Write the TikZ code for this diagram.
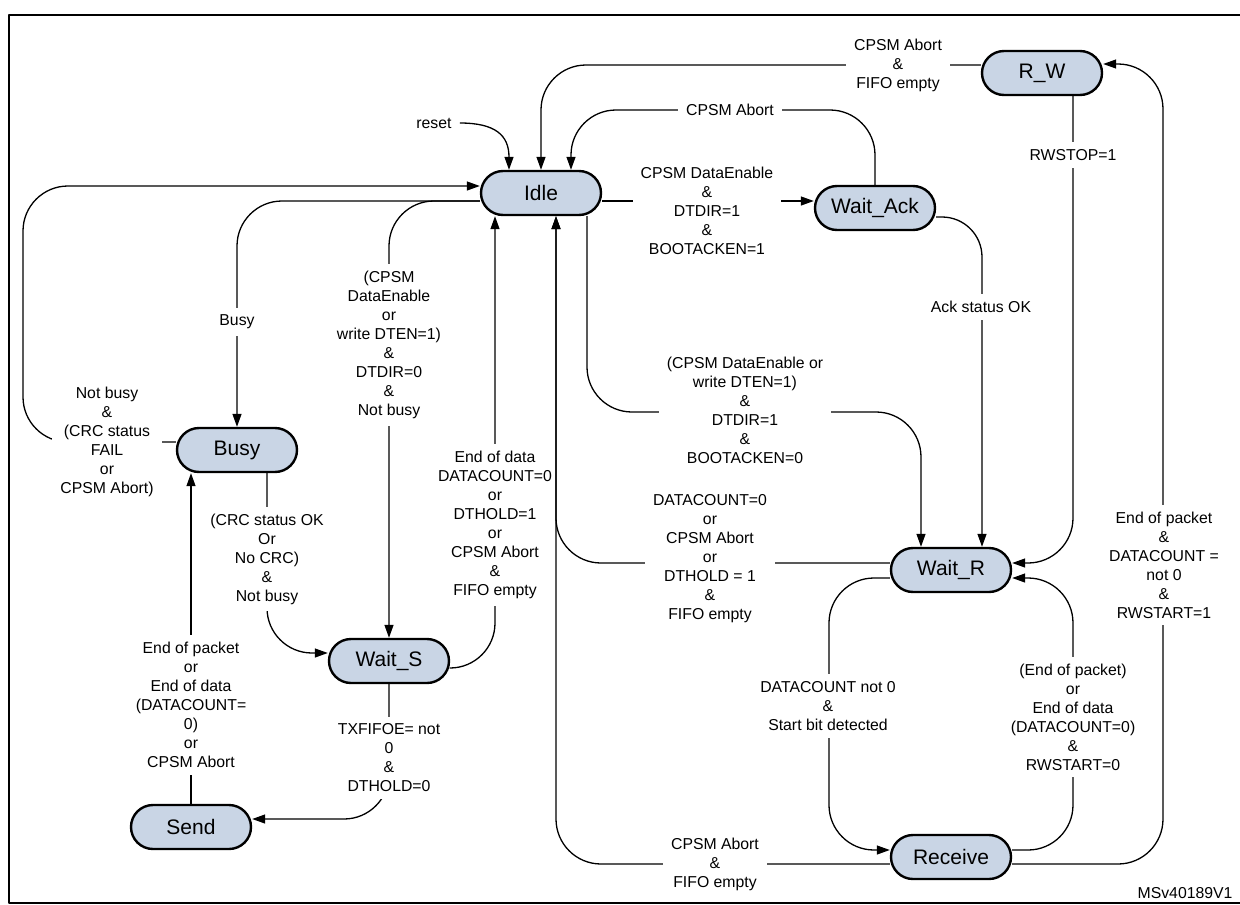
\documentclass[tikz,border=0pt]{standalone}
\usepackage{fontspec}
\setmainfont{Liberation Sans}
\usepackage{xcolor}
\usepackage{tikz}
\usetikzlibrary{shapes.misc}
\usetikzlibrary{arrows.meta}
\definecolor{statefill}{RGB}{201,213,229}
\tikzset{
    statenode/.style = {rounded rectangle, draw=black, line width=2.4pt, fill=statefill, minimum width=120pt, minimum height=44pt, inner sep=0pt, font=\fontsize{21}{25}\selectfont},
    cond/.style = {fill=white, align=center, inner xsep=8pt, inner ysep=7pt, font=\fontsize{15.8}{19}\selectfont},
}

\begin{document}
\begin{tikzpicture}[
	x=1pt, y=-1pt,
	line join=round
]
\tikzset{
    edgen/.style = {line width=1.3pt, rounded corners=45pt},
    edgea/.style = {edgen, -{Triangle[length=13pt,width=9pt]}}
}
\useasboundingbox (0,0) rectangle (1240,905);
\draw[line width=1.6pt] (9,15) rectangle (1250,903);
%
\node[statenode] at (541,193) (idle) {Idle};
\node[statenode] at (875,208) (waitack) {Wait\_Ack};
\node[statenode] at (1042,73) (rw) {R\_W};
\node[statenode] at (237,450) (busy) {Busy};
\node[statenode] at (389,661) (waits) {Wait\_S};
\node[statenode] at (191,827) (send) {Send};
\node[statenode] at (951,570) (waitr) {Wait\_R};
\node[statenode] at (951,857) (receive) {Receive};
%
\node[cond] at (434,123) (reset) {reset};
\draw[edgea] (reset.east) .. controls (495,123) and (509,135) .. ([xshift=-32pt]idle.north);
%
\draw[edgea] ([yshift=8pt]rw.west) -| (idle.north);
\draw[edgea] (waitack.north) |- (700,110) -| ([xshift=30pt]idle.north);
\draw[edgea] ([yshift=-8pt]idle.east) -- ([yshift=7pt]waitack.west);
\draw[edgea,rounded corners=40pt] ([yshift=-9pt]waitack.east) -| ([xshift=31pt]waitr.north);
\draw[edgea] ([xshift=31pt]rw.south) |- ([yshift=7pt]waitr.east);
\draw[edgea] ([yshift=-7pt]receive.east) -- (1163,864) -- (1163,64) -- ([yshift=9pt]rw.east);
%
\draw[edgea] ([yshift=8pt]busy.west) -- (23,442) -- (23,186) -- ([yshift=7pt]idle.west);
\draw[edgea] ([yshift=-8pt]idle.west) -| (busy.north);
\draw[edgea] ([yshift=-8pt]idle.west) -| (waits.north);
\draw[edgea] ([yshift=-7pt]waits.east) -| ([xshift=-46pt]idle.south);
\draw[edgea] ([yshift=7pt]waitr.west) -| ([xshift=15pt]idle.south);
\draw[edgea] ([yshift=-7pt]receive.west) -| ([xshift=15pt]idle.south);
\draw[edgea] ([xshift=46pt]idle.south) |- (750,412) -| ([xshift=-30pt]waitr.north);
%
\draw[edgea] ([xshift=30pt]busy.south) |- ([yshift=8pt]waits.west);
\draw[edgea] (send.north) -- (send.north |- busy.south);
\draw[edgea] (waits.south) |- ([yshift=8pt]send.east);
%
\draw[edgea] ([yshift=-8pt]waitr.west) -- (829,578) -- (829,850) -- ([yshift=7pt]receive.west);
\draw[edgea] ([yshift=7pt]receive.east) -- (1073,850) -- (1073,578) -- ([yshift=-8pt]waitr.east);
%
\node[cond] at (898,65) (lrwidle) {CPSM Abort\\\&\\FIFO empty};
\node[cond] at (730,110) (lackidle) {CPSM Abort};
\node[cond] at (707,211) (lidleack) {CPSM DataEnable\\\&\\DTDIR=1\\\&\\BOOTACKEN=1};
\node[cond] at (107,442) (lnotbusy) {Not busy\\\&\\(CRC status\\FAIL\\or\\CPSM Abort)};
\node[cond] at (237,322) (lbusy) {Busy};
\node[cond] at (389,345) (lidlews) {(CPSM\\DataEnable\\or\\write DTEN=1)\\\&\\DTDIR=0\\\&\\Not busy};
\node[cond,inner xsep=1pt] at (495,525) (lwsidle) {End of data\\DATACOUNT=0\\or\\DTHOLD=1\\or\\CPSM Abort\\\&\\FIFO empty};
\node[cond] at (710,559) (lwridle) {DATACOUNT=0\\or\\CPSM Abort\\or\\DTHOLD = 1\\\&\\FIFO empty};
\node[cond] at (745,410) (lidlewr) {(CPSM DataEnable or\\write DTEN=1)\\\&\\DTDIR=1\\\&\\BOOTACKEN=0};
\node[cond] at (981,307) (lack) {Ack status OK};
\node[cond] at (1073,155) (lrwstop) {RWSTOP=1};
\node[cond] at (1164,565) (lrwstart) {End of packet\\\&\\DATACOUNT =\\not 0\\\&\\RWSTART=1};
\node[cond] at (828,706) (lstart) {DATACOUNT not 0\\\&\\Start bit detected};
\node[cond] at (1073,717) (lend) {(End of packet)\\or\\End of data\\(DATACOUNT=0)\\\&\\RWSTART=0};
\node[cond] at (715,864) (lrecidle) {CPSM Abort\\\&\\FIFO empty};
\node[cond] at (267,559) (lcrcok) {(CRC status OK\\Or\\No CRC)\\\&\\Not busy};
\node[cond] at (191,705) (lsend) {End of packet\\or\\End of data\\(DATACOUNT=\\0)\\or\\CPSM Abort};
\node[cond] at (389,758) (ltxfifo) {TXFIFOE= not\\0\\\&\\DTHOLD=0};
%
\node[anchor=east,font=\fontsize{15.8}{19}\selectfont] at (1236,893) (msv) {MSv40189V1};
\end{tikzpicture}
\end{document}
